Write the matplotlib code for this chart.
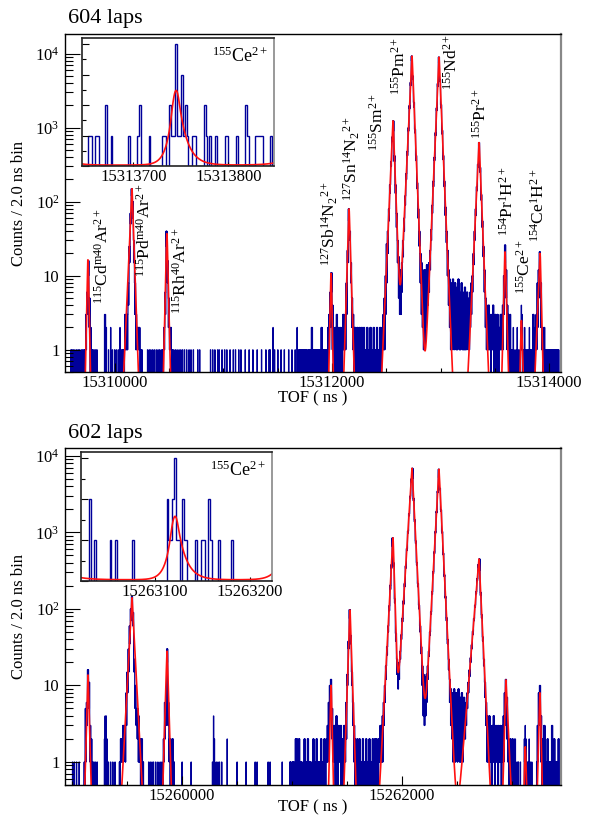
import numpy as np
import matplotlib
matplotlib.use("Agg")
import matplotlib.pyplot as plt
from matplotlib.ticker import FixedLocator, MultipleLocator, LogLocator, FuncFormatter, NullFormatter

plt.rcParams['font.family'] = ['Liberation Serif', 'DejaVu Serif']
plt.rcParams['mathtext.fontset'] = 'custom'
plt.rcParams['mathtext.rm'] = 'Liberation Serif'
plt.rcParams['mathtext.it'] = 'Liberation Serif:italic'
plt.rcParams['mathtext.bf'] = 'Liberation Serif:bold'

BLUE = '#00009a'
RED = '#ff1010'

# ---------------- 604 laps (top) ----------------
top_xlim = (15309540, 15314110)
top_ylim = (0.5, 1.85e4)

# fitted peaks: centre, height, sigma, left tail, right tail (ns)
top_pk_tof = [15309751, 15310157, 15310479, 15311991, 15312157, 15312562,
              15312737, 15312986, 15313355, 15313594, 15313745, 15313917]
top_pk_amp = [16.4, 150, 37, 10.7, 80, 1240, 9300, 9000, 630, 21, 2.45, 20]
top_pk_sig = [5, 5, 5, 5, 5, 5, 5, 5, 5, 5, 5.5, 5]
top_pk_tl = [6, 13, 7, 6, 9, 13, 14, 13, 14, 7, 6, 12]
top_pk_tr = [6, 10, 7, 6, 9, 11, 12, 12.5, 12, 8, 9, 7]
top_fit_bg = 0.03

# histogram, 10 ns columns (high / low count of the 2 ns bins inside)
top_cd_start = 15309720
top_cd_hi = [1, 3, 6, 16, 5, 2, 1]
top_cd_lo = [0, 1, 3, 10, 2, 0, 0]
top_pd_start = 15310070
top_pd_hi = [1, 1, 3, 3, 3, 8, 25, 70, 150, 100, 30, 8, 3, 2, 2, 2, 1, 1]
top_pd_lo = [0, 0, 1, 1, 1, 4, 15, 50, 120, 60, 15, 3, 1, 1, 1, 1, 0, 0]
top_rh_start = 15310440
top_rh_hi = [1, 2, 6, 40, 16, 5, 2, 2, 1]
top_rh_lo = [0, 1, 3, 25, 8, 2, 1, 1, 0]
top_mid_start = 15311700
top_mid_hi = [1, 1, 0, 1, 1, 1, 1, 0, 1, 1, 1, 2, 1, 1, 0, 1, 1, 1, 1, 1, 2, 1, 1, 1, 1,
              1, 2, 3, 6, 11, 4, 2, 1, 2, 3, 2, 1, 2, 1, 2,
              3, 2, 3, 8, 22, 80, 40, 15, 5, 3,
              2, 2, 1, 2, 1, 2, 1, 2, 1, 2, 1, 1, 2, 1, 1, 2, 1, 1, 2, 1]
top_mid_lo = [0] * 25 + \
             [0, 0, 1, 2, 6, 1, 0, 0, 0, 1, 0, 0, 0, 0, 0,
              1, 1, 1, 3, 15, 55, 30, 8, 2, 1,
              0, 1, 0, 0, 0, 0, 0, 1, 0, 0, 0, 0, 0, 0, 0, 1, 0, 0, 0, 0]
top_main_start = 15312400
top_main_hi = [1, 2, 1, 1, 2, 1,
               2, 3, 5, 10, 27, 40, 80, 170, 350, 750,
               1240, 420, 170, 70, 30, 18, 12, 10, 15,
               30, 60, 120, 240, 480, 1000, 2000, 4100, 9300,
               5000, 2200, 950, 420, 180, 80, 40, 20,
               15, 12, 10, 12, 8, 14, 12, 15,
               22, 42, 90, 190, 400, 860, 1850, 3950, 9000,
               4500, 2050, 920, 420, 190, 85, 40, 22, 12, 9,
               8, 7, 9, 6, 8, 5, 7, 9, 6, 5, 8, 6, 4, 7, 5, 6, 4, 5, 6, 8,
               10, 20, 40, 80, 160, 320, 630, 290, 125, 55, 25, 12, 5, 4, 3,
               4, 3, 2, 3, 4, 2, 3, 1, 3, 2, 2, 3]
top_main_lo = [0, 0, 0, 0, 1, 0,
               1, 1, 1, 3, 8, 20, 55, 130, 300, 650,
               900, 350, 130, 45, 15, 5, 3, 3, 6,
               18, 40, 90, 200, 420, 900, 1800, 3700, 8000,
               4500, 1900, 850, 360, 150, 60, 25, 8,
               3, 2, 1, 1, 2, 3, 4, 6,
               12, 30, 70, 160, 360, 780, 1700, 3600, 7500,
               4200, 1850, 820, 370, 160, 65, 28, 10, 4, 2,
               1, 1, 2, 1, 2, 1, 1, 2, 1, 1, 2, 1, 1, 1, 1, 2, 1, 1, 2, 3,
               6, 14, 30, 65, 140, 290, 550, 250, 105, 45, 18, 6, 2, 1, 1,
               1, 1, 0, 1, 1, 0, 1, 0, 1, 0, 1, 1]
top_tail_start = 15313560
top_tail_hi = [3, 4, 10, 26, 12, 4, 3, 2, 3, 1, 2, 2, 1, 1, 2, 1, 1, 2, 4, 3,
               1, 2, 1, 1, 1, 1, 2, 1, 1, 3, 1, 2, 3, 8, 12, 21, 8, 2, 1, 2,
               1, 1, 1, 1, 1, 1, 1, 1, 1, 1, 1, 1, 1]
top_tail_lo = [1, 1, 3, 15, 5, 1, 1, 0, 1, 0, 0, 1, 0, 0, 0, 0, 0, 1, 1, 1,
               0, 1, 0, 0, 0, 0, 0, 0, 0, 1, 0, 1, 1, 2, 5, 12, 2, 1, 0, 1,
               0, 0, 0, 0, 0, 0, 0, 0, 0, 0, 0, 0, 0]

# isolated background bins
top_bg1 = [15309594, 15309604, 15309616, 15309630, 15309646, 15309660, 15309672, 15309688,
           15309700, 15309712, 15309786, 15309796, 15309808, 15309822, 15309834,
           15309940, 15309976, 15309996, 15310012, 15310030, 15310060,
           15310300, 15310316, 15310330, 15310346, 15310362, 15310380, 15310396, 15310410, 15310426,
           15310540, 15310556, 15310572, 15310590, 15310606, 15310622, 15310640, 15310660,
           15310682, 15310700, 15310722, 15310762, 15310780,
           15310880, 15310900, 15310920, 15310946, 15310960, 15310986, 15311010, 15311030,
           15311060, 15311090, 15311110, 15311140, 15311160, 15311200, 15311236, 15311270,
           15311310, 15311350, 15311390, 15311420, 15311430, 15311470, 15311500, 15311530,
           15311560, 15311600, 15311630, 15311660, 15311690]
top_spike_tof = [15309904, 15309912, 15309920, 15309960, 15310046, 15311456, 15311678]
top_spike_cnt = [3, 3, 2, 2, 2, 2, 2]

# inset 155Ce2+ (2 ns bins)
top_ins_xlim = (15313646, 15313848)
top_ins_ylim = (0, 4.2)
top_ins_ticks = [15313700, 15313800]
top_ce_tof = [15313652, 15313654, 15313660, 15313662, 15313670, 15313676, 15313694, 15313704,
              15313706, 15313716, 15313730, 15313732, 15313738, 15313740, 15313742, 15313744,
              15313746, 15313748, 15313750, 15313752, 15313754, 15313756, 15313762, 15313764,
              15313774, 15313776, 15313780, 15313786, 15313796, 15313798, 15313808, 15313818,
              15313820, 15313828, 15313830, 15313832, 15313834, 15313844]
top_ce_cnt = [1, 1, 1, 1, 2, 1, 1, 1, 2, 1, 1, 1, 2, 1, 1, 4, 1, 1, 3, 1, 2, 1, 1, 1,
              2, 1, 1, 1, 1, 1, 1, 2, 1, 1, 1, 1, 1, 1]

# peak labels
top_lbl_text = [r'$^{115}$Cd$^{\mathrm{m}40}$Ar$^{2+}$', r'$^{115}$Pd$^{\mathrm{m}40}$Ar$^{2+}$',
                r'$^{115}$Rh$^{40}$Ar$^{2+}$', r'$^{127}$Sb$^{14}$N$_{2}$$^{2+}$',
                r'$^{127}$Sn$^{14}$N$_{2}$$^{2+}$', r'$^{155}$Sm$^{2+}$', r'$^{155}$Pm$^{2+}$',
                r'$^{155}$Nd$^{2+}$', r'$^{155}$Pr$^{2+}$', r'$^{154}$Pr$^{1}$H$^{2+}$',
                r'$^{155}$Ce$^{2+}$', r'$^{154}$Ce$^{1}$H$^{2+}$']
top_lbl_tof = [15309889, 15310276, 15310608, 15311982, 15312184, 15312424,
               15312627, 15313106, 15313373, 15313622, 15313779, 15313908]
top_lbl_y = [4.1, 9.7, 3.0, 13.6, 103, 478, 2750, 3200, 715, 34, 5.6, 28.5]

# ---------------- 602 laps (bottom) ----------------
bot_xlim = (15258936, 15263446)
bot_ylim = (0.5, 1.27e4)

bot_pk_tof = [15259145, 15259545, 15259864, 15261355, 15261527, 15261918,
              15262091, 15262336, 15262700, 15262945, 15263121, 15263254]
bot_pk_amp = [13.7, 140, 28, 10, 97, 850, 6900, 6700, 450, 11.8, 1.55, 8]
bot_pk_sig = [5, 5, 5, 5, 5, 5, 5, 5, 5, 5, 5.5, 5]
bot_pk_tl = [8, 16, 9, 6.5, 10, 16, 19, 16.5, 25, 7.8, 6, 7.3]
bot_pk_tr = [8, 16, 9, 6.5, 10, 9, 15.5, 15.4, 14.7, 14, 9, 7]
bot_fit_bg = 0.03

bot_cd_start = 15259110
bot_cd_hi = [1, 5, 6, 16, 11, 3, 2, 1]
bot_cd_lo = [0, 1, 3, 11, 5, 1, 1, 0]
bot_pd_start = 15259430
bot_pd_hi = [1, 2, 2, 3, 3, 3, 8, 15, 30, 60, 100, 145, 90, 22, 10, 5, 5, 4, 2, 2, 2, 1]
bot_pd_lo = [0, 1, 1, 1, 2, 1, 3, 8, 15, 35, 70, 120, 60, 15, 5, 3, 2, 1, 1, 0, 0, 0]
bot_rh_start = 15259830
bot_rh_hi = [2, 6, 6, 30, 6, 2, 2, 1, 2, 1]
bot_rh_lo = [1, 2, 3, 20, 3, 1, 0, 0, 0, 0]
bot_mid_start = 15260980
bot_mid_hi = [1, 0, 1, 1, 0, 2, 2, 1, 2, 1, 1, 0, 1, 2, 1, 1, 2, 1, 1, 0,
              1, 2, 1, 1, 2, 1, 1, 1, 2, 1, 1, 2, 1, 2, 3, 6, 10, 12, 5, 2,
              3, 2, 4, 2, 3, 2, 3, 2, 2, 3, 3, 6, 14, 38, 98, 45, 15, 6, 3, 2,
              1, 2, 1, 2, 1, 1, 2, 1, 1, 2, 1, 1, 2, 1, 1, 2, 1, 2, 2, 1]
bot_mid_lo = [0, 0, 0, 0, 0, 0, 1, 0, 0, 0, 0, 0, 0, 0, 0, 0, 1, 0, 0, 0,
              0, 0, 0, 0, 0, 0, 0, 0, 0, 0, 0, 0, 0, 1, 1, 2, 5, 8, 2, 1,
              1, 0, 1, 0, 1, 1, 0, 1, 0, 1, 1, 2, 10, 30, 75, 35, 10, 3, 1, 0,
              0, 0, 0, 1, 0, 0, 0, 0, 0, 0, 0, 0, 0, 0, 0, 0, 0, 0, 1, 0]
bot_main_start = 15261780
bot_main_hi = [2, 2, 3, 3, 4, 6, 10, 18, 32, 60, 110, 205, 380, 850,
               400, 135, 48, 22, 17, 20,
               28, 46, 76, 128, 215, 365, 615, 1040, 1760, 2980, 5000, 6900,
               2800, 1470, 775, 405, 215, 112, 60, 32,
               18, 14, 12, 13, 14, 18,
               28, 50, 92, 168, 308, 560, 1030, 1890, 3460, 6700,
               3780, 1970, 1025, 535, 280, 146, 77, 40, 22,
               12, 9, 8, 7, 9, 6, 8, 5, 9, 6, 7, 8, 6, 7, 5, 6,
               8, 11, 16, 23, 34, 51, 75, 112, 168, 250, 380,
               450, 165, 84, 43, 22, 11, 6, 4,
               3, 4, 3, 2, 3, 4, 2, 3, 2, 3, 2, 3, 2, 3]
bot_main_lo = [0, 1, 1, 1, 1, 3, 6, 12, 25, 50, 95, 180, 340, 650,
               360, 120, 38, 14, 9, 12,
               22, 40, 68, 115, 195, 340, 580, 980, 1650, 2800, 4600, 5000,
               2600, 1380, 720, 375, 195, 100, 50, 26,
               10, 4, 3, 4, 6, 12,
               24, 45, 85, 155, 290, 530, 980, 1800, 3300, 5200,
               3600, 1880, 980, 510, 265, 138, 70, 35, 16,
               6, 3, 2, 1, 2, 1, 2, 1, 2, 1, 1, 2, 1, 2, 2, 3,
               5, 8, 13, 20, 30, 46, 70, 105, 158, 235, 350,
               320, 150, 76, 38, 18, 7, 3, 1,
               1, 1, 1, 0, 1, 1, 0, 1, 1, 0, 1, 1, 0, 1]
bot_tail_start = 15262920
bot_tail_hi = [4, 8, 12, 7, 2, 1, 2, 1, 2, 1, 2, 2, 1, 1, 1, 1, 0, 0, 0, 2,
               3, 2, 1, 2, 1, 1, 1, 2, 1, 2, 1, 3, 8, 10, 4, 2, 1, 3, 1, 1,
               2, 1, 1, 1, 3, 1, 2, 1, 1, 1, 2, 1, 1]
bot_tail_lo = [1, 3, 6, 2, 1, 0, 0, 0, 1, 0, 0, 0, 0, 0, 0, 0, 0, 0, 0, 1,
               1, 1, 0, 1, 0, 0, 0, 0, 0, 0, 0, 1, 3, 6, 1, 0, 0, 1, 0, 0,
               0, 0, 0, 0, 1, 0, 0, 0, 0, 0, 0, 0, 0]

bot_bg1 = [15259004, 15259020, 15259040, 15259064, 15259190, 15259200, 15259214, 15259228,
           15259330, 15259350, 15259370, 15259390, 15259696, 15259710, 15259726, 15259740,
           15259760, 15259780, 15259800, 15259816, 15260000, 15260082, 15260276, 15260310,
           15260326, 15260340, 15260360, 15260500, 15260582, 15260664, 15260682, 15260782,
           15260800, 15260910]
bot_spike_tof = [15259294, 15259300, 15259310, 15259318, 15260286, 15260294, 15260410]
bot_spike_cnt = [2, 4, 4, 2, 4, 2, 2]

bot_ins_xlim = (15263022, 15263223)
bot_ins_ylim = (0, 3.15)
bot_ins_ticks = [15263100, 15263200]
bot_ce_tof = [15263030, 15263036, 15263052, 15263058, 15263076, 15263112, 15263114, 15263116,
              15263118, 15263120, 15263122, 15263124, 15263128, 15263130, 15263132, 15263142,
              15263148, 15263150, 15263156, 15263158, 15263166, 15263180]
bot_ce_cnt = [2, 1, 1, 1, 1, 2, 1, 1, 2, 3, 1, 1, 2, 1, 1, 1, 1, 1, 2, 1, 1, 1]


def peak(t, c, a, s, tl, tr):
    d = t - c
    kl, kr = s / tl, s / tr
    y = np.exp(-0.5 * (d / s) ** 2)
    m = d < -kl * s
    y[m] = np.exp(0.5 * kl ** 2 + kl * d[m] / s)
    m = d > kr * s
    y[m] = np.exp(0.5 * kr ** 2 - kr * d[m] / s)
    return a * y


def fit_curve(t, tof, amp, sig, tl, tr, bg):
    y = np.full_like(t, bg, dtype=float)
    for c, a, s, l, r in zip(tof, amp, sig, tl, tr):
        y += peak(t, c, a, s, l, r)
    return y


def build_hist(edges, clusters, bg1, sp_tof, sp_cnt, ins_lim, ce_tof, ce_cnt):
    counts = np.zeros(len(edges) - 1)
    x0 = edges[0]

    def put(t, v):
        k = int((t - x0) // 2)
        if 0 <= k < len(counts):
            counts[k] = v

    for start, hi, lo in clusters:
        for j, (h, l) in enumerate(zip(hi, lo)):
            for m, v in enumerate([h, l, h, l, h]):
                put(start + 10 * j + 2 * m, v)
    for t in bg1:
        put(t, 1)
    for t, v in zip(sp_tof, sp_cnt):
        put(t, v)
    # the inset region is the zoomed histogram itself
    centres = 0.5 * (edges[1:] + edges[:-1])
    counts[(centres > ins_lim[0]) & (centres < ins_lim[1])] = 0
    for t, v in zip(ce_tof, ce_cnt):
        put(t, v)
    return counts


def y_fmt(v, pos):
    if abs(v - 1) < 1e-9:
        return '1'
    if abs(v - 10) < 1e-9:
        return '10'
    return r'$10^{%d}$' % int(round(np.log10(v)))


def draw_panel(ax, xlim, ylim, edges, counts, fitpars, xmajor, xlabelpad):
    vals = np.where(counts > 0, counts, 1e-3)
    ax.stairs(vals, edges, baseline=None, color=BLUE, lw=0.9)
    t = np.arange(xlim[0], xlim[1], 0.5)
    y = fit_curve(t, *fitpars)
    ax.plot(t, np.maximum(y, 1e-3), color=RED, lw=1.2)
    ax.set_yscale('log')
    ax.set_xlim(*xlim)
    ax.set_ylim(*ylim)
    ax.xaxis.set_major_locator(FixedLocator(xmajor))
    ax.xaxis.set_minor_locator(MultipleLocator(500))
    ax.xaxis.set_major_formatter(FuncFormatter(lambda v, p: '%d' % v))
    ax.yaxis.set_major_locator(LogLocator(base=10, numticks=10))
    ax.yaxis.set_minor_locator(LogLocator(base=10, subs=np.arange(2, 10), numticks=20))
    ax.yaxis.set_major_formatter(FuncFormatter(y_fmt))
    ax.yaxis.set_minor_formatter(NullFormatter())
    ax.tick_params(axis='x', which='major', direction='in', length=6.5, width=0.8,
                   labelsize=12, pad=2.5, top=False)
    ax.tick_params(axis='x', which='minor', direction='in', length=3.2, width=0.8, top=False)
    ax.tick_params(axis='y', which='major', direction='in', length=11, width=0.8,
                   labelsize=12, pad=4, right=False)
    ax.tick_params(axis='y', which='minor', direction='in', length=5.5, width=0.8, right=False)
    ax.set_xlabel('TOF ( ns )', fontsize=12, labelpad=xlabelpad)
    ax.set_ylabel('Counts / 2.0 ns bin', fontsize=12, labelpad=6)
    for s in ax.spines.values():
        s.set_linewidth(1.0)
        s.set_color('black')
    ax.spines['right'].set_color('#888888')
    ax.spines['right'].set_linewidth(1.6)


def draw_inset(ax, xlim, ylim, ticks, ce_tof, ce_cnt, fitpars):
    edges = np.arange(xlim[0], xlim[1] + 2, 2)
    counts = np.zeros(len(edges) - 1)
    for t, v in zip(ce_tof, ce_cnt):
        counts[int((t - xlim[0]) // 2)] = v
    ax.stairs(counts, edges, baseline=None, color=BLUE, lw=1.0)
    t = np.arange(xlim[0], xlim[1], 0.25)
    ax.plot(t, fit_curve(t, *fitpars), color=RED, lw=1.2)
    ax.set_xlim(*xlim)
    ax.set_ylim(*ylim)
    ax.xaxis.set_major_locator(FixedLocator(ticks))
    ax.xaxis.set_major_formatter(FuncFormatter(lambda v, p: '%d' % v))
    ax.yaxis.set_major_locator(MultipleLocator(1))
    ax.yaxis.set_minor_locator(MultipleLocator(0.5))
    ax.yaxis.set_major_formatter(NullFormatter())
    ax.tick_params(axis='x', which='major', direction='in', length=3, width=0.8,
                   labelsize=12, pad=2, top=False)
    ax.tick_params(axis='y', which='major', direction='in', length=5, width=0.8, right=False)
    ax.tick_params(axis='y', which='minor', direction='in', length=3, width=0.8, right=False)
    ax.text(0.97, 0.93, r'$^{155}$Ce$^{2+}$', transform=ax.transAxes, ha='right', va='top',
            fontsize=13)
    for s in ax.spines.values():
        s.set_linewidth(1.2)
        s.set_color('#222222')
    ax.spines['right'].set_color('#888888')


W, H = 591, 818
fig = plt.figure(figsize=(W / 100, H / 100), dpi=100)

def px_rect(x0, y0, x1, y1):
    return [x0 / W, 1 - y1 / H, (x1 - x0) / W, (y1 - y0) / H]

# top panel
ax1 = fig.add_axes(px_rect(65, 34, 561, 372))
top_edges = np.arange(top_xlim[0], top_xlim[1] + 2, 2)
top_clusters = [(top_cd_start, top_cd_hi, top_cd_lo), (top_pd_start, top_pd_hi, top_pd_lo),
                (top_rh_start, top_rh_hi, top_rh_lo), (top_mid_start, top_mid_hi, top_mid_lo),
                (top_main_start, top_main_hi, top_main_lo),
                (top_tail_start, top_tail_hi, top_tail_lo)]
top_counts = build_hist(top_edges, top_clusters, top_bg1, top_spike_tof, top_spike_cnt,
                        top_ins_xlim, top_ce_tof, top_ce_cnt)
top_fit = (top_pk_tof, top_pk_amp, top_pk_sig, top_pk_tl, top_pk_tr, top_fit_bg)
draw_panel(ax1, top_xlim, top_ylim, top_edges, top_counts, top_fit,
           [15310000, 15312000, 15314000], -1)
for txt, xx, yy in zip(top_lbl_text, top_lbl_tof, top_lbl_y):
    ax1.text(xx, yy, txt, rotation=90, ha='center', va='bottom', fontsize=12.5)
fig.text(68 / W, 1 - 23 / H, '604 laps', fontsize=16, ha='left', va='baseline')

ins1 = fig.add_axes(px_rect(82, 38, 274, 166))
draw_inset(ins1, top_ins_xlim, top_ins_ylim, top_ins_ticks, top_ce_tof, top_ce_cnt, top_fit)

# bottom panel
ax2 = fig.add_axes(px_rect(65, 448, 561, 785))
bot_edges = np.arange(bot_xlim[0], bot_xlim[1] + 2, 2)
bot_clusters = [(bot_cd_start, bot_cd_hi, bot_cd_lo), (bot_pd_start, bot_pd_hi, bot_pd_lo),
                (bot_rh_start, bot_rh_hi, bot_rh_lo), (bot_mid_start, bot_mid_hi, bot_mid_lo),
                (bot_main_start, bot_main_hi, bot_main_lo),
                (bot_tail_start, bot_tail_hi, bot_tail_lo)]
bot_counts = build_hist(bot_edges, bot_clusters, bot_bg1, bot_spike_tof, bot_spike_cnt,
                        bot_ins_xlim, bot_ce_tof, bot_ce_cnt)
bot_fit = (bot_pk_tof, bot_pk_amp, bot_pk_sig, bot_pk_tl, bot_pk_tr, bot_fit_bg)
draw_panel(ax2, bot_xlim, bot_ylim, bot_edges, bot_counts, bot_fit,
           [15260000, 15262000], -3.5)
fig.text(68 / W, 1 - 438 / H, '602 laps', fontsize=16, ha='left', va='baseline')

ins2 = fig.add_axes(px_rect(81, 452, 272, 581))
draw_inset(ins2, bot_ins_xlim, bot_ins_ylim, bot_ins_ticks, bot_ce_tof, bot_ce_cnt, bot_fit)

fig.savefig('out.png', dpi=100)
